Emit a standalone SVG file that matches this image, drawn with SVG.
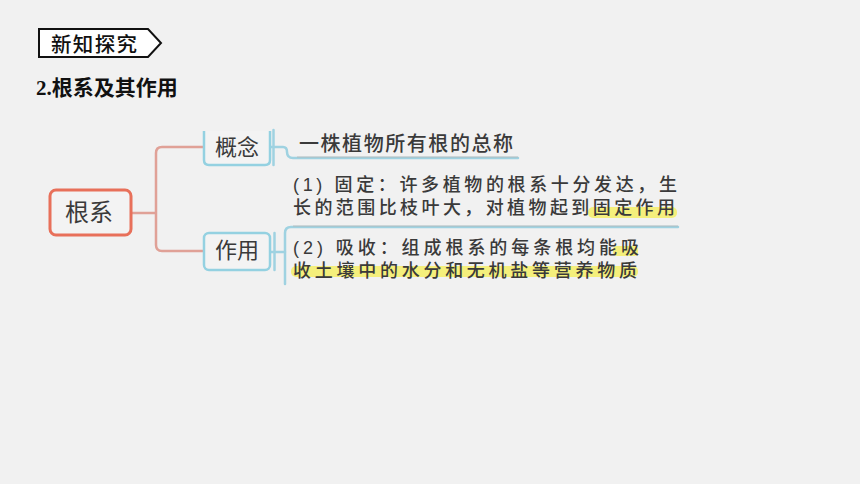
<svg xmlns="http://www.w3.org/2000/svg" width="860" height="484" viewBox="0 0 860 484">
<style>
.bg{fill:#f1f1f1}
.cjk{font-family:"Noto Sans CJK SC","Noto Sans",sans-serif}
.cjk2{font-family:"Liberation Sans","Noto Sans CJK SC",sans-serif}
.node{fill:#f3f3f3;stroke:#94d1e1;stroke-width:2.5}
.nt{font-size:22px;fill:#3a3a3a;text-anchor:middle}
.item{font-size:18px;fill:#3a3a3a;font-weight:500}
.blue{fill:none;stroke:#9fd2e1;stroke-width:2.5;stroke-linecap:round}
.red{fill:none;stroke:#e0a197;stroke-width:2.5}
.hl{fill:#f4ef7c}
</style>
<rect class="bg" x="0" y="0" width="860" height="484"/>
<g id="tag">
<polygon points="39,29 148,29 161,43 148,57 39,57" fill="#ffffff" stroke="#111" stroke-width="2"/>
<text class="cjk" x="51" y="52" font-size="20.5" font-weight="500" fill="#111" textLength="86" lengthAdjust="spacing">新知探究</text>
</g>
<g id="title">
<text class="cjk" x="36" y="95" font-size="21" font-weight="bold" fill="#111"><tspan font-family="Liberation Serif,serif">2.</tspan>根系及其作用</text>
</g>
<g id="connectors">
<path class="red" d="M131,213 H156"/>
<path class="red" d="M204,147 H162 Q156,147 156,153 V245 Q156,251 162,251 H204"/>
<path class="blue" d="M273.5,130 V165"/>
<path class="blue" d="M270,147 H283 Q287,147 287,152 Q287,158 293,158 H518"/>
<path class="blue" d="M274.5,233 V270"/>
<path class="blue" d="M270,252 H285"/>
<path class="blue" d="M285,284 V233 Q285,227 291,227 H678"/>
<path d="M293,226 H678" stroke="#b5b5b5" stroke-width="0.8" fill="none"/>
<path d="M297,157 H518" stroke="#b5b5b5" stroke-width="0.8" fill="none"/>
</g>
<g id="root">
<rect x="50" y="190" width="81" height="45" rx="6" fill="#f3f3f3" stroke="#e8705a" stroke-width="3"/>
<text class="cjk" x="89" y="221" font-size="24" fill="#3a3a3a" text-anchor="middle">根系</text>
</g>
<g id="concept">
<path class="node" d="M204,131 V160 Q204,165 209,165 H265 Q270,165 270,160 V131"/>
<text class="cjk nt" x="237" y="155">概念</text>
</g>
<g id="function">
<rect class="node" x="204" y="233" width="66" height="37" rx="5"/>
<text class="cjk nt" x="237" y="258">作用</text>
</g>
<g id="concept-text">
<text class="cjk" x="299" y="151" font-size="20" font-weight="500" fill="#3a3a3a" textLength="214" lengthAdjust="spacing">一株植物所有根的总称</text>
</g>
<g id="item1">
<rect class="hl" x="588" y="207" width="89" height="11" rx="5"/>
<text class="cjk2 item" x="293" y="191" textLength="384" lengthAdjust="spacing">(1) 固定：许多植物的根系十分发达，生</text>
<text class="cjk2 item" x="293" y="214" textLength="382" lengthAdjust="spacing">长的范围比枝叶大，对植物起到固定作用</text>
</g>
<g id="item2">
<rect class="hl" x="613" y="246" width="25" height="10" rx="4"/>
<rect class="hl" x="291" y="266" width="347" height="11" rx="5"/>
<text class="cjk2 item" x="293" y="254" textLength="346" lengthAdjust="spacing">(2) 吸收：组成根系的每条根均能吸</text>
<text class="cjk2 item" x="293" y="277" textLength="344" lengthAdjust="spacing">收土壤中的水分和无机盐等营养物质</text>
</g>
</svg>
